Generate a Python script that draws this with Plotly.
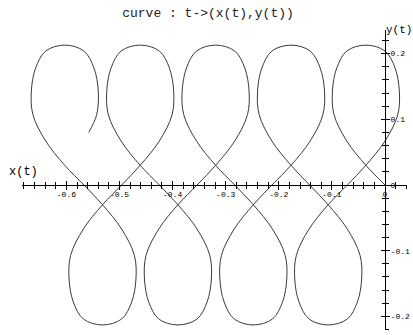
import plotly.graph_objects as go

# curve points, traced from the origin leftwards
# (top loop -> bottom loop -> top loop ...), values in data units
x_t = [
    0.000,
    -0.036, -0.072, -0.096, -0.099, -0.091, -0.072, -0.036, 0.000, 0.019, 0.027, 0.024, 0.000, -0.036,
    -0.071,
    -0.107, -0.143, -0.167, -0.170, -0.162, -0.143, -0.107, -0.071, -0.052, -0.044, -0.047, -0.071, -0.107,
    -0.142,
    -0.177, -0.213, -0.237, -0.240, -0.232, -0.213, -0.177, -0.141, -0.122, -0.114, -0.117, -0.141, -0.177,
    -0.213,
    -0.248, -0.284, -0.308, -0.311, -0.303, -0.284, -0.248, -0.212, -0.193, -0.185, -0.188, -0.212, -0.248,
    -0.283,
    -0.319, -0.355, -0.379, -0.382, -0.374, -0.355, -0.319, -0.283, -0.264, -0.256, -0.259, -0.283, -0.319,
    -0.354,
    -0.390, -0.426, -0.450, -0.453, -0.445, -0.426, -0.390, -0.354, -0.335, -0.327, -0.330, -0.354, -0.390,
    -0.425,
    -0.461, -0.497, -0.521, -0.524, -0.516, -0.497, -0.461, -0.425, -0.406, -0.398, -0.401, -0.425, -0.461,
    -0.496,
    -0.532, -0.568, -0.592, -0.595, -0.587, -0.568, -0.532, -0.496, -0.477, -0.469, -0.472, -0.496, -0.532,
    -0.567,
    -0.603, -0.639, -0.663, -0.666, -0.658, -0.639, -0.603, -0.567, -0.548, -0.540, -0.543, -0.558,
]
y_t = [
    0.000,
    0.030, 0.067, 0.107, 0.143, 0.178, 0.204, 0.213, 0.204, 0.178, 0.143, 0.107, 0.067, 0.030,
    0.000,
    -0.030, -0.067, -0.107, -0.143, -0.178, -0.204, -0.213, -0.204, -0.178, -0.143, -0.107, -0.067, -0.030,
    0.000,
    0.030, 0.067, 0.107, 0.143, 0.178, 0.204, 0.213, 0.204, 0.178, 0.143, 0.107, 0.067, 0.030,
    0.000,
    -0.030, -0.067, -0.107, -0.143, -0.178, -0.204, -0.213, -0.204, -0.178, -0.143, -0.107, -0.067, -0.030,
    0.000,
    0.030, 0.067, 0.107, 0.143, 0.178, 0.204, 0.213, 0.204, 0.178, 0.143, 0.107, 0.067, 0.030,
    0.000,
    -0.030, -0.067, -0.107, -0.143, -0.178, -0.204, -0.213, -0.204, -0.178, -0.143, -0.107, -0.067, -0.030,
    0.000,
    0.030, 0.067, 0.107, 0.143, 0.178, 0.204, 0.213, 0.204, 0.178, 0.143, 0.107, 0.067, 0.030,
    0.000,
    -0.030, -0.067, -0.107, -0.143, -0.178, -0.204, -0.213, -0.204, -0.178, -0.143, -0.107, -0.067, -0.030,
    0.000,
    0.030, 0.067, 0.107, 0.143, 0.178, 0.204, 0.213, 0.204, 0.178, 0.143, 0.107, 0.080,
]

x_ticks = [-0.6, -0.5, -0.4, -0.3, -0.2, -0.1, 0]
x_ticktext = ['-0.6', '-0.5', '-0.4', '-0.3', '-0.2', '-0.1', '0']
y_ticks = [-0.2, -0.1, 0, 0.1, 0.2]
y_ticktext = ['-0.2', '-0.1', '0', '0.1', '0.2']

x_range = [-0.6836, 0.0414]
y_range = [-0.2207, 0.236]

mono = 'Liberation Mono'

# where the axes cross (paper fractions of the plot area)
x_axis_pos = (0 - y_range[0]) / (y_range[1] - y_range[0])
y_axis_pos = (0 - x_range[0]) / (x_range[1] - x_range[0])

fig = go.Figure()
fig.add_trace(go.Scatter(
    x=x_t, y=y_t,
    mode='lines',
    line=dict(color='#3a3a3a', width=1, shape='spline', smoothing=1),
    showlegend=False,
    hoverinfo='skip',
))
# empty trace so the overlay axes (other half of the crossing ticks) get drawn
fig.add_trace(go.Scatter(x=[], y=[], xaxis='x2', yaxis='y2', showlegend=False))

tick_font = dict(family=mono, size=8, color='black')

fig.update_layout(
    width=413,
    height=335,
    margin=dict(l=22, r=6, t=30, b=5, autoexpand=False),
    plot_bgcolor='white',
    paper_bgcolor='white',
    title=dict(
        text='curve : t->(x(t),y(t))',
        x=208 / 413, xanchor='center',
        y=1 - 12 / 335, yanchor='middle',
        font=dict(family=mono, size=13, color='#222'),
    ),
    xaxis=dict(
        range=x_range, anchor='free', position=x_axis_pos, side='bottom',
        automargin=False,
        showline=True, linecolor='black', linewidth=1,
        showgrid=False, zeroline=False,
        tickvals=x_ticks, ticktext=x_ticktext, tickfont=tick_font,
        ticklabelstandoff=1,
        ticks='inside', ticklen=4, tickcolor='black', tickwidth=1,
        minor=dict(tick0=0, dtick=0.02, ticks='inside', ticklen=3, tickcolor='black'),
    ),
    xaxis2=dict(
        range=x_range, overlaying='x', anchor='free', position=x_axis_pos, side='bottom',
        automargin=False,
        showline=False, showgrid=False, zeroline=False, showticklabels=False,
        tickvals=x_ticks, ticks='outside', ticklen=4, tickcolor='black', tickwidth=1,
        minor=dict(tick0=0, dtick=0.02, ticks='outside', ticklen=3, tickcolor='black'),
    ),
    yaxis=dict(
        range=y_range, anchor='free', position=y_axis_pos, side='right',
        automargin=False,
        showline=True, linecolor='black', linewidth=1,
        showgrid=False, zeroline=False,
        tickvals=y_ticks, ticktext=y_ticktext, tickfont=tick_font,
        ticklabelstandoff=3,
        ticks='inside', ticklen=4, tickcolor='black', tickwidth=1,
        minor=dict(tick0=0, dtick=0.02, ticks='inside', ticklen=3, tickcolor='black'),
    ),
    yaxis2=dict(
        range=y_range, overlaying='y', anchor='free', position=y_axis_pos, side='right',
        automargin=False,
        showline=False, showgrid=False, zeroline=False, showticklabels=False,
        tickvals=y_ticks, ticks='outside', ticklen=4, tickcolor='black', tickwidth=1,
        minor=dict(tick0=0, dtick=0.02, ticks='outside', ticklen=3, tickcolor='black'),
    ),
)

# axis names, Maple style: at the ends of the axes
fig.add_annotation(
    text='x(t)', xref='paper', yref='paper',
    x=(7 - 22) / 385, xanchor='left', y=(330 - 172) / 300, yanchor='middle',
    showarrow=False, font=dict(family=mono, size=12, color='black'),
)
fig.add_annotation(
    text='y(t)', xref='paper', yref='paper',
    x=(384 - 22) / 385, xanchor='left', y=(330 - 30) / 300, yanchor='middle',
    showarrow=False, font=dict(family=mono, size=11, color='black'),
)

# page has a default 8px body margin; drop it so the figure sits at 0,0
fig.write_html('out.html', config={'displayModeBar': False},
               post_script="document.body.style.margin='0';")
